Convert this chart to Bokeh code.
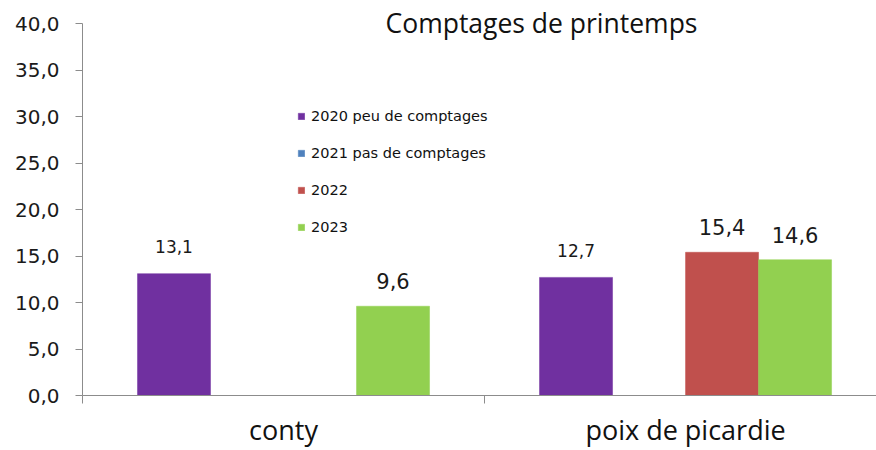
from bokeh.plotting import figure
from bokeh.models import Range1d, FixedTicker, ColumnDataSource, Label, Legend, LegendItem
from bokeh.core.properties import value
from bokeh.embed import file_html
from bokeh.resources import INLINE
import math

categories = ["conty", "poix de picardie"]
series_names = ["2020 peu de comptages", "2021 pas de comptages", "2022", "2023"]
series_colors = ["#7030A0", "#4F81BD", "#C0504D", "#92D050"]
values_2020 = [13.1, 12.7]
values_2021 = [None, None]
values_2022 = [None, 15.4]
values_2023 = [9.6, 14.6]
y_ticks = [0, 5, 10, 15, 20, 25, 30, 35, 40]
title_text = "Comptages de printemps"

series_values = [values_2020, values_2021, values_2022, values_2023]
# label font sizes per bar (styling, as in the original chart)
label_sizes = {(0, 0): "17px", (1, 0): "17px", (0, 3): "21px", (1, 2): "21px", (1, 3): "21px"}

W, H = 876, 450
Y_MAX = 40
# frame reaches the top of the canvas; axis line is bounded to 0..40
y_top = Y_MAX * 395 / 372
p = figure(width=W, height=H, output_backend="svg", toolbar_location=None,
           x_range=Range1d(0, 1.975), y_range=Range1d(0, y_top),
           min_border_left=82, min_border_right=0, min_border_top=0, min_border_bottom=55)
p.outline_line_color = None
p.xgrid.visible = False
p.ygrid.visible = False
p.background_fill_color = "white"

bar_w = 0.1816
renderers = []
lab_x, lab_y, lab_t, lab_s, lab_off = [], [], [], [], []
for k, (name, color, vals) in enumerate(zip(series_names, series_colors, series_values)):
    xs = [i + 0.5 + (k - 1.5) * bar_w for i in range(len(categories))]
    tops = [v if v is not None else math.nan for v in vals]
    src = ColumnDataSource(dict(x=xs, top=tops))
    r = p.vbar(x="x", top="top", bottom=0, width=bar_w, source=src,
               fill_color=color, line_color=color, line_width=0.5)
    renderers.append((name, r))
    for i, v in enumerate(vals):
        if v is not None:
            lab_x.append(xs[i])
            lab_y.append(v)
            lab_t.append(f"{v:.1f}".replace(".", ","))
            s = label_sizes.get((i, k), "17px")
            lab_s.append(s)
            lab_off.append(-27 if s == "17px" else -25)

lsrc = ColumnDataSource(dict(x=lab_x, y=lab_y, t=lab_t, s=lab_s, o=lab_off))
p.text(x="x", y="y", text="t", source=lsrc, text_font=value("DejaVu Sans"),
       text_font_size="s", y_offset="o", text_align="center", text_baseline="middle",
       text_color="#1a1a1a")

# axes
axis_color = "#8C8C8C"
p.yaxis.bounds = (0, Y_MAX)
p.yaxis.ticker = FixedTicker(ticks=y_ticks)
p.yaxis.major_label_overrides = {t: f"{t:.1f}".replace(".", ",") for t in y_ticks}
p.yaxis.major_label_text_font = "DejaVu Sans"
p.yaxis.major_label_text_font_size = "20px"
p.yaxis.major_label_text_color = "#1a1a1a"
p.yaxis.axis_line_color = axis_color
p.yaxis.major_tick_line_color = axis_color
p.yaxis.major_tick_out = 7
p.yaxis.major_tick_in = 0
p.yaxis.minor_tick_line_color = None
p.yaxis.major_label_standoff = 16

p.xaxis.ticker = FixedTicker(ticks=[0.5, 1.5], minor_ticks=[0, 1, 2])
p.xaxis.major_label_overrides = {0.5: categories[0], 1.5: categories[1]}
p.xaxis.major_label_text_font = "Open Sans"
p.xaxis.major_label_text_font_size = "27px"
p.xaxis.major_label_text_color = "#111111"
p.xaxis.axis_line_color = axis_color
p.xaxis.major_tick_line_color = None
p.xaxis.major_tick_out = 0
p.xaxis.minor_tick_line_color = axis_color
p.xaxis.minor_tick_out = 8
p.xaxis.minor_tick_in = 0
p.xaxis.major_label_standoff = 7

legend = Legend(items=[LegendItem(label=n, renderers=[r]) for n, r in renderers],
                location=(215, 158), orientation="vertical",
                glyph_width=8, glyph_height=8, label_height=20, spacing=17,
                padding=0, margin=0, border_line_color=None, background_fill_alpha=0,
                label_text_font="DejaVu Sans", label_text_font_size="14.5px",
                label_text_color="#111111", label_standoff=6)
p.add_layout(legend)

p.add_layout(Label(x=459, y=373, x_units="screen", y_units="screen", text=title_text,
                   text_font="Open Sans", text_font_size="26.5px", text_align="center",
                   text_baseline="alphabetic", text_color="#111111"))

open("out.html", "w").write(file_html(p, INLINE))
